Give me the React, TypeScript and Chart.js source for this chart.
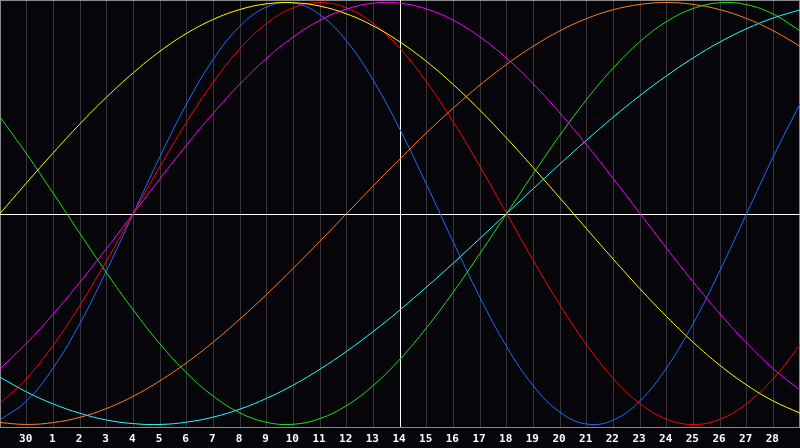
import React, { useEffect, useRef } from "react";
import { Chart, registerables } from "chart.js";

Chart.register(...registerables);

// Day labels for each gridline (index 0 .. 30); edges are unlabeled
const dayLabels = [
  "29", "30", "1", "2", "3", "4", "5", "6", "7", "8", "9", "10", "11", "12", "13",
  "14", "15", "16", "17", "18", "19", "20", "21", "22", "23", "24", "25", "26", "27", "28", "29",
];
const todayIndex = 15;

// Cycle values (%) at each day gridline
const physical = [
  -97.9, -88.8, -73.1, -52.0, -27.0, 0, 27.0, 52.0, 73.1, 88.8, 97.9, 99.8, 94.2, 81.7, 63.1, 39.8,
  13.6, -13.6, -39.8, -63.1, -81.7, -94.2, -99.8, -97.9, -88.8, -73.1, -52.0, -27.0, 0, 27.0, 52.0,
];
const emotional = [
  -90.1, -78.2, -62.3, -43.4, -22.3, 0, 22.3, 43.4, 62.3, 78.2, 90.1, 97.5, 100, 97.5, 90.1, 78.2,
  62.3, 43.4, 22.3, 0, -22.3, -43.4, -62.3, -78.2, -90.1, -97.5, -100, -97.5, -90.1, -78.2, -62.3,
];
const intellectual = [
  45.8, 28.2, 9.5, -9.5, -28.2, -45.8, -61.8, -75.6, -86.6, -94.5, -99.0, -99.9, -97.2, -91.0, -81.5, -69.0,
  -54.1, -37.2, -18.9, 0, 18.9, 37.2, 54.1, 69.0, 81.5, 91.0, 97.2, 99.9, 99.0, 94.5, 86.6,
];
const aesthetic = [
  0, 14.6, 28.8, 42.5, 55.2, 66.7, 76.9, 85.4, 92.0, 96.7, 99.4, 99.9, 98.3, 94.6, 88.9, 81.3,
  72.0, 61.1, 48.9, 35.7, 21.7, 7.3, -7.3, -21.7, -35.7, -48.9, -61.1, -72.0, -81.3, -88.9, -94.6,
];
const intuitive = [
  -73.6, -61.4, -47.6, -32.5, -16.5, 0, 16.5, 32.5, 47.6, 61.4, 73.6, 83.7, 91.6, 96.9, 99.7, 99.7,
  96.9, 91.6, 83.7, 73.6, 61.4, 47.6, 32.5, 16.5, 0, -16.5, -32.5, -47.6, -61.4, -73.6, -83.7,
];
const awareness = [
  -99.1, -100, -99.1, -96.6, -92.4, -86.6, -79.3, -70.7, -60.9, -50, -38.3, -25.9, -13.1, 0, 13.1, 25.9,
  38.3, 50, 60.9, 70.7, 79.3, 86.6, 92.4, 96.6, 99.1, 100, 99.1, 96.6, 92.4, 86.6, 79.3,
];
const spiritual = [
  -77.6, -84.6, -90.3, -94.7, -97.9, -99.6, -100, -98.9, -96.5, -92.7, -87.6, -81.3, -73.8, -65.3, -55.9, -45.7,
  -34.8, -23.5, -11.8, 0, 11.8, 23.5, 34.8, 45.7, 55.9, 65.3, 73.8, 81.3, 87.6, 92.7, 96.5,
];

const seriesNames = ["Aesthetic", "Intuitive", "Awareness", "Spiritual", "Intellectual", "Emotional", "Physical"];
const seriesData = [aesthetic, intuitive, awareness, spiritual, intellectual, emotional, physical];
const seriesColors = ["#ffff00", "#ff00ff", "#ff8020", "#20ffff", "#20e020", "#ff0000", "#1e6eff"];

const framePlugin = {
  id: "frame",
  beforeDraw(chart: any) {
    const { ctx, width, height } = chart;
    ctx.save();
    ctx.fillStyle = "#060509";
    ctx.fillRect(0, 0, width, height);
    ctx.restore();
  },
  beforeDatasetsDraw(chart: any) {
    const { ctx, chartArea } = chart;
    const x = chart.scales.x;
    const y = chart.scales.y;
    ctx.save();
    ctx.lineWidth = 1;
    ctx.strokeStyle = "#8a8a8a";
    ctx.beginPath();
    ctx.moveTo(chartArea.left, chartArea.top + 0.5);
    ctx.lineTo(chartArea.right, chartArea.top + 0.5);
    ctx.moveTo(chartArea.left + 0.5, chartArea.top);
    ctx.lineTo(chartArea.left + 0.5, chartArea.bottom);
    ctx.moveTo(chartArea.right - 0.5, chartArea.top);
    ctx.lineTo(chartArea.right - 0.5, chartArea.bottom);
    ctx.stroke();
    ctx.strokeStyle = "#ffffff";
    ctx.beginPath();
    const y0 = Math.round(y.getPixelForValue(0)) + 0.5;
    ctx.moveTo(chartArea.left, y0);
    ctx.lineTo(chartArea.right, y0);
    const xt = Math.round(x.getPixelForValue(todayIndex)) + 0.5;
    ctx.moveTo(xt, chartArea.top);
    ctx.lineTo(xt, chartArea.bottom);
    ctx.stroke();
    ctx.restore();
  },
};

export default function App() {
  const ref = useRef<HTMLCanvasElement | null>(null);
  useEffect(() => {
    document.body.style.margin = "0";
    document.body.style.background = "#060509";
    if (!ref.current) return;
    const chart = new Chart(ref.current, {
      type: "line",
      data: {
        labels: dayLabels,
        datasets: seriesData.map((d, i) => ({
          label: seriesNames[i],
          data: d,
          borderColor: seriesColors[i],
          backgroundColor: seriesColors[i],
          borderWidth: 1,
          pointRadius: 0,
          tension: 0.4,
          fill: false,
        })),
      },
      options: {
        animation: false,
        responsive: false,
        devicePixelRatio: 1,
        layout: { padding: 0 },
        plugins: { legend: { display: false }, tooltip: { enabled: false } },
        scales: {
          x: {
            type: "category",
            offset: false,
            grid: {
              display: true,
              drawTicks: false,
              color: (c: any) =>
                c.index === 0 || c.index === dayLabels.length - 1 ? "rgba(0,0,0,0)" : "#36363a",
              lineWidth: 1,
            },
            border: { display: true, color: "#8a8a8a", width: 1 },
            ticks: {
              autoSkip: false,
              maxRotation: 0,
              minRotation: 0,
              padding: 6,
              labelOffset: -1,
              color: "#ffffff",
              font: { family: "'DejaVu Sans Mono', monospace", size: 11, weight: "bold" },
              callback: (_v: any, i: number) =>
                i === 0 || i === dayLabels.length - 1 ? "" : dayLabels[i],
            },
            afterFit: (scale: any) => {
              scale.height = 21;
              scale.paddingLeft = 0;
              scale.paddingRight = 0;
            },
          },
          y: {
            display: false,
            min: -101.2,
            max: 101.2,
          },
        },
      },
      plugins: [framePlugin],
    });
    return () => chart.destroy();
  }, []);
  return (
    <div style={{ position: "absolute", left: 0, top: 0, width: 800, height: 448, background: "#060509" }}>
      <canvas ref={ref} width={800} height={448} style={{ display: "block" }} />
    </div>
  );
}
